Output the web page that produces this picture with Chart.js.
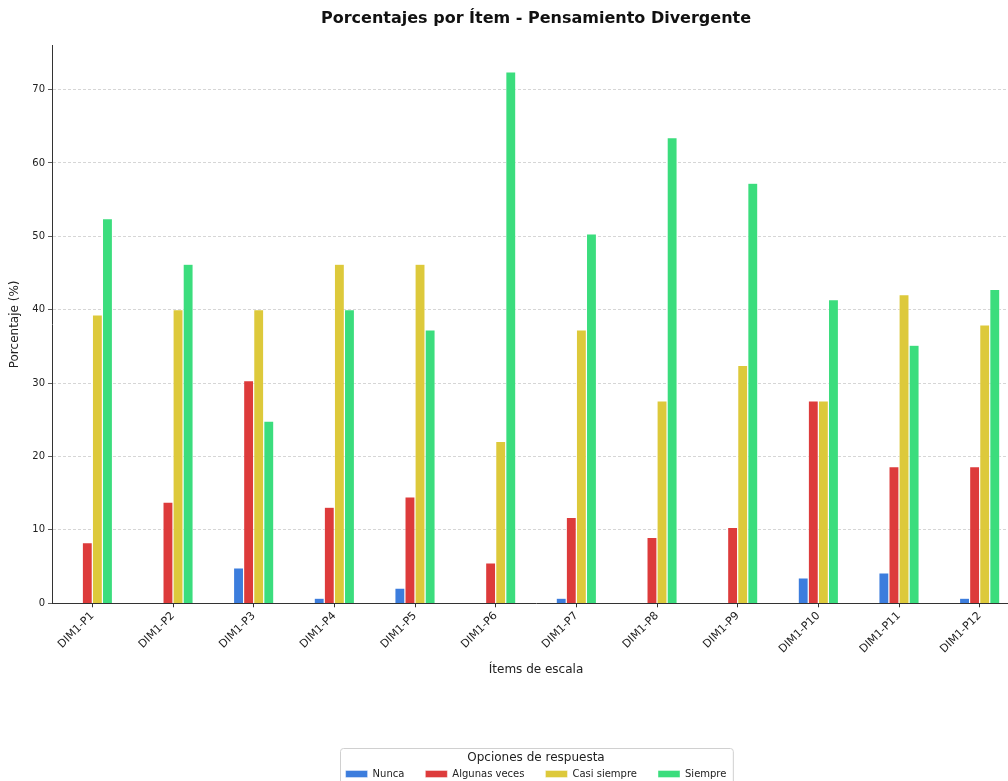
<!DOCTYPE html>
<html lang="es">
<head>
<meta charset="utf-8">
<title>Porcentajes por Ítem - Pensamiento Divergente</title>
<script src="https://cdn.jsdelivr.net/npm/chart.js@4.4.1/dist/chart.umd.min.js"></script>
<style>
  html, body { margin: 0; padding: 0; background: #fff; overflow: hidden; }
  #grafico { display: block; position: absolute; left: 0; top: 0; }
</style>
</head>
<body>
<canvas id="grafico" width="1072" height="789"></canvas>
<script>
// Ítems de la dimensión 1
const items = ["DIM1-P1", "DIM1-P2", "DIM1-P3", "DIM1-P4", "DIM1-P5", "DIM1-P6",
               "DIM1-P7", "DIM1-P8", "DIM1-P9", "DIM1-P10", "DIM1-P11", "DIM1-P12"];

// Porcentaje de respuestas por opción (%)
const nunca        = [0, 0, 4.83, 0.69, 2.07, 0, 0.69, 0, 0, 3.45, 4.14, 0.69];
const algunasVeces = [8.28, 13.79, 30.34, 13.10, 14.48, 5.52, 11.72, 8.97, 10.34, 27.59, 18.62, 18.62];
const casiSiempre  = [39.31, 40.00, 40.00, 46.21, 46.21, 22.07, 37.24, 27.59, 32.41, 27.59, 42.07, 37.93];
const siempre      = [52.41, 46.21, 24.83, 40.00, 37.24, 72.41, 50.34, 63.45, 57.24, 41.38, 35.17, 42.76];

const opciones = ["Nunca", "Algunas veces", "Casi siempre", "Siempre"];
const colores  = ["#3c7ddd", "#dd3b3b", "#ddc93b", "#3bdd7d"];

const fuente = "'DejaVu Sans', 'Liberation Sans', sans-serif";
const texto = "#222222";

// Recuadro alrededor de la leyenda
const marcoLeyenda = {
  id: "marcoLeyenda",
  afterDraw(chart) {
    const lg = chart.legend;
    if (!lg || !lg.legendHitBoxes || !lg.legendHitBoxes.length) return;
    const cajas = lg.legendHitBoxes;
    const izq = Math.min(...cajas.map(c => c.left)) - 6;
    const der = Math.max(...cajas.map(c => c.left + c.width)) + 6;
    const arriba = lg.top + 4;
    const abajo = lg.bottom + 20;
    const ctx = chart.ctx;
    ctx.save();
    ctx.strokeStyle = "#d0d0d0";
    ctx.lineWidth = 1;
    ctx.beginPath();
    ctx.roundRect(Math.round(izq) + 0.5, Math.round(arriba) + 0.5, der - izq, abajo - arriba, 3);
    ctx.stroke();
    ctx.restore();
  }
};

const series = [nunca, algunasVeces, casiSiempre, siempre];

new Chart(document.getElementById("grafico"), {
  type: "bar",
  data: {
    labels: items,
    datasets: series.map((valores, i) => ({
      label: opciones[i],
      data: valores,
      backgroundColor: colores[i],
      borderColor: "rgba(255,255,255,0.7)",
      borderWidth: 0.6,
      borderSkipped: "start",
      categoryPercentage: 0.5,
      barPercentage: 1.0,
      yAxisID: "y"
    }))
  },
  options: {
    responsive: false,
    animation: false,
    devicePixelRatio: 1,
    layout: { padding: 0 },
    plugins: {
      tooltip: { enabled: false },
      title: {
        display: true,
        text: "Porcentajes por Ítem - Pensamiento Divergente",
        color: "#111",
        font: { family: fuente, size: 16, weight: "bold" },
        padding: { top: 9.4, bottom: 16.9 }
      },
      legend: {
        position: "bottom",
        title: {
          display: true,
          text: "Opciones de respuesta",
          color: texto,
          font: { family: fuente, size: 12 },
          padding: { top: 8, bottom: -18.2 }
        },
        labels: {
          boxWidth: 22,
          boxHeight: 7,
          padding: 21,
          color: texto,
          font: { family: fuente, size: 10 }
        }
      }
    },
    scales: {
      x: {
        grid: {
          display: true,
          drawOnChartArea: false,
          drawTicks: true,
          tickLength: 4,
          tickColor: "#333",
          offset: false
        },
        border: { display: true, color: "#333", width: 1 },
        ticks: {
          color: texto,
          font: { family: fuente, size: 11 },
          minRotation: 45,
          maxRotation: 45,
          autoSkip: false,
          padding: 2
        },
        title: {
          display: true,
          text: "Ítems de escala",
          color: texto,
          font: { family: fuente, size: 12 },
          padding: { top: 4, bottom: 66.8 }
        },
        afterFit(scale) { scale.height = 140.5; }
      },
      y: {
        position: "left",
        min: 0,
        max: 76,
        grid: {
          color: ctx => (ctx.tick && ctx.tick.value === 0 ? "rgba(0,0,0,0)" : "#cccccc"),
          lineWidth: 0.8,
          drawTicks: true,
          tickLength: 4,
          tickColor: "#333"
        },
        border: { display: true, color: "#333", width: 1, dash: [3, 2] },
        ticks: {
          stepSize: 10,
          includeBounds: false,
          color: texto,
          font: { family: fuente, size: 10 },
          padding: 3
        },
        title: {
          display: true,
          text: "Porcentaje (%)",
          color: texto,
          font: { family: fuente, size: 12 },
          padding: { top: 7.8, bottom: 0 }
        },
        afterFit(scale) { scale.width = 52; }
      },
      // eje derecho vacío: deja la gráfica y la leyenda centradas en el lienzo ancho
      yDer: {
        position: "right",
        display: true,
        grid: { display: false },
        border: { display: false },
        ticks: { display: false },
        afterFit(scale) { scale.width = 52; }
      }
    }
  },
  plugins: [marcoLeyenda]
});
</script>
</body>
</html>
